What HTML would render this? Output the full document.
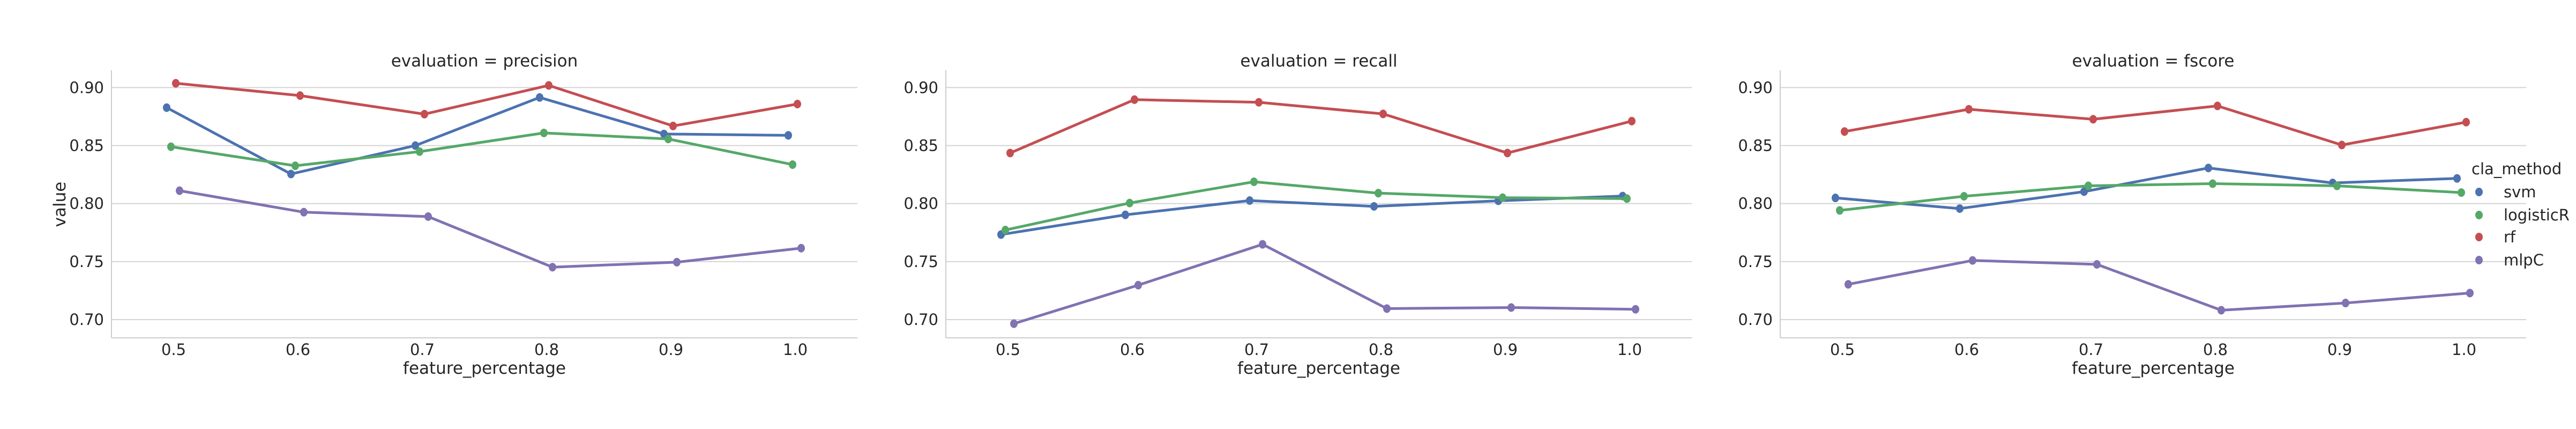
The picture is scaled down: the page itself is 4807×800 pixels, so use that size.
<!DOCTYPE html>
<html><head><meta charset="utf-8"><style>
body{margin:0;background:#fff;width:4807px;height:800px;overflow:hidden}
svg{display:block;font-family:"DejaVu Sans","Liberation Sans",sans-serif}
</style></head><body>
<svg id="chart" width="4807" height="800" viewBox="0 0 4807 800"></svg>
<script>
const categories = ["0.5","0.6","0.7","0.8","0.9","1.0"];
const yTicks = [0.70,0.75,0.80,0.85,0.90];
const yTickLabels = ["0.70","0.75","0.80","0.85","0.90"];
const panels = ["precision","recall","fscore"];
const methods = ["svm","logisticR","rf","mlpC"];
const colors = ["#4C72B0","#55A868","#C44E52","#8172B2"];
const precisionSvm = [0.8827,0.8255,0.850,0.8915,0.860,0.8588];
const precisionLog = [0.849,0.8326,0.8448,0.8609,0.8557,0.8336];
const precisionRf = [0.9037,0.8931,0.8771,0.9019,0.8669,0.8858];
const precisionMlp = [0.8111,0.7926,0.7888,0.7452,0.7495,0.7616];
const recallSvm = [0.7733,0.7903,0.8026,0.7976,0.8024,0.8065];
const recallLog = [0.7772,0.8005,0.8188,0.8090,0.8051,0.8043];
const recallRf = [0.8436,0.8896,0.8873,0.8773,0.8436,0.8711];
const recallMlp = [0.6965,0.7297,0.7649,0.7095,0.7104,0.7089];
const fscoreSvm = [0.8049,0.7957,0.8103,0.8307,0.8178,0.8217];
const fscoreLog = [0.7941,0.8063,0.8153,0.8172,0.8153,0.8095];
const fscoreRf = [0.8621,0.8813,0.8727,0.8842,0.8505,0.8702];
const fscoreMlp = [0.7304,0.7510,0.7476,0.7081,0.7143,0.7229];
const seriesByPanel = [[precisionSvm,precisionLog,precisionRf,precisionMlp],[recallSvm,recallLog,recallRf,recallMlp],[fscoreSvm,fscoreLog,fscoreRf,fscoreMlp]];

const NS="http://www.w3.org/2000/svg";
const svg=document.getElementById('chart');
function mk(tag,attrs,parent){const e=document.createElementNS(NS,tag);for(const k in attrs)e.setAttribute(k,attrs[k]);(parent||svg).appendChild(e);return e;}
const panelLefts=[208,1765,3322];
const W=1392, axTop=131, axBottom=630;
const y0=596, y90=163.3;
function yScale(v){return y0+(v-0.70)*(y90-y0)/0.20;}
const dodge=[-13,-5,4,11];
panels.forEach((p,pi)=>{
  const L=panelLefts[pi];
  const g=mk('g',{});
  
  
  function xScale(i){return L+116+i*232;}
  yTicks.forEach((t,ti)=>{
    const gl=mk('line',{x1:L,x2:L+W,y1:yScale(t),y2:yScale(t),stroke:'#d4d4d4','stroke-width':2},g);
    
    
    const tl=mk('text',{x:L-14,y:yScale(t)+10,'text-anchor':'end','font-size':29,fill:'#262626'},g);
    tl.textContent=yTickLabels[ti];
    
    
  });
  mk('line',{x1:L,x2:L,y1:axTop,y2:axBottom,stroke:'#cccccc','stroke-width':2},g);
  mk('line',{x1:L,x2:L+W,y1:axBottom,y2:axBottom,stroke:'#cccccc','stroke-width':2},g);
  categories.forEach((c,ci)=>{
    const tl=mk('text',{x:xScale(ci),y:662,'text-anchor':'middle','font-size':29,fill:'#262626'},g);
    tl.textContent=c;
    
    
  });
  const xt=mk('text',{x:L+W/2,y:697,'text-anchor':'middle','font-size':31,fill:'#262626'},g);
  xt.textContent='feature_percentage';
  
  
  const tt=mk('text',{x:L+W/2,y:124,'text-anchor':'middle','font-size':31,fill:'#262626'},g);
  tt.textContent='evaluation = '+p;
  
  
  seriesByPanel[pi].forEach((vals,si)=>{
    const pts=vals.map((v,i)=>(xScale(i)+dodge[si])+','+yScale(v)).join(' ');
    const pl=mk('polyline',{points:pts,fill:'none',stroke:colors[si],'stroke-width':5,'stroke-linejoin':'round'},g);
    
    
    vals.forEach((v,i)=>{
      const c=mk('ellipse',{cx:xScale(i)+dodge[si],cy:yScale(v),rx:7,ry:8,fill:colors[si]},g);
      
      
    });
  });
});
const yl=mk('text',{x:0,y:0,'text-anchor':'middle','font-size':31,fill:'#262626',transform:'translate(122,381) rotate(-90)'});
yl.textContent='value';


const lg=mk('g',{});


const lt=mk('text',{x:4612,y:325,'font-size':29,fill:'#262626'},lg);
lt.textContent='cla_method';


const ly=[358,401,442,485];
methods.forEach((m,i)=>{
  const c=mk('ellipse',{cx:4626,cy:ly[i],rx:7,ry:8,fill:colors[i]},lg);
  
  
  const t=mk('text',{x:4672,y:ly[i]+10,'font-size':29,fill:'#262626'},lg);
  t.textContent=m;
  
  
});
</script>
</body></html>
